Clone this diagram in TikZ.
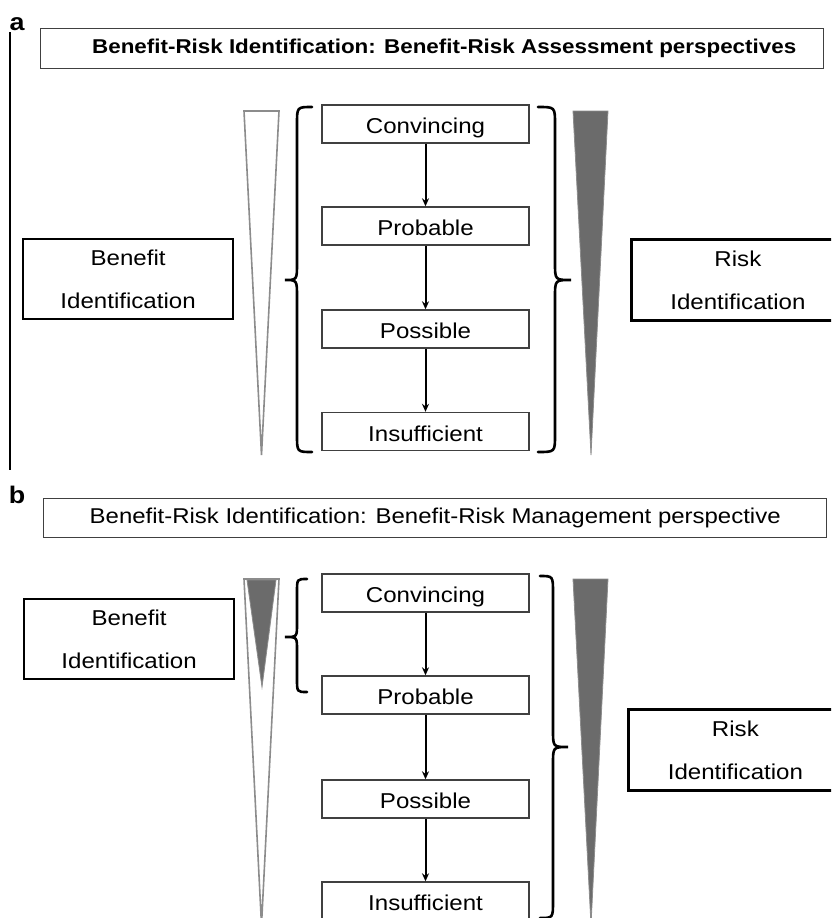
\documentclass[tikz,border=0pt]{standalone}
\usepackage{fontspec}
\setmainfont{Liberation Sans}[FakeStretch=1.12]
\usetikzlibrary{arrows.meta}
\newcommand\fsz[2]{\fontsize{#1}{#2}\selectfont}
\begin{document}
\begin{tikzpicture}[x=1pt,y=-1pt,
 titlebox/.style={draw=black!75,line width=1.4pt,minimum width=783pt,minimum height=40pt,inner sep=0pt,anchor=north west},
 sidebox/.style={draw=black,line width=2.2pt,minimum width=210pt,minimum height=80pt,inner sep=0pt,anchor=north west,align=center,font=\fsz{21.5}{43}},
 levelbox/.style={draw=black!75,line width=1.4pt,fill=white,minimum width=207pt,minimum height=38pt,inner sep=0pt,text height=19.4pt,text depth=0pt,font=\fsz{21.5}{26}},
 arr/.style={-{Stealth[length=8pt,width=7pt]},line width=2pt},
 bracel/.style={line width=2.6pt,line cap=round},
 opentri/.style={draw=black!45,line width=1.6pt,fill=white,line join=miter},
 darktri/.style={fill=black!58,draw=black!45,line width=0.8pt},
 panellabel/.style={anchor=base,font=\bfseries\fsz{24}{26},inner sep=0pt}]
\useasboundingbox (0,0) rectangle (831,918);
\clip (0,0) rectangle (831,918);

% ---------------- panel a ----------------
\node[panellabel] (la) at (17,30) {a};
\coordinate (vtop) at (10,32);
\coordinate (vbot) at (10,470);
\draw[line width=1.2pt] (vtop) -- (vbot);

\node[titlebox] (titleA) at (40,28) {\bfseries\fsz{20}{24}\hspace*{24pt}Benefit-Risk Identification: Benefit-Risk Assessment perspectives};

\draw[opentri] (244,111) -- (279,111) -- (261.5,455) -- cycle;
\draw[darktri] (573,111) -- (608,111) -- (591,455) -- cycle;

\draw[bracel] (312,107) .. controls (297,107) .. (297,124) -- (297,263) .. controls (297,280) .. (285,280)
  .. controls (297,280) .. (297,297) -- (297,435) .. controls (297,452) .. (312,452);
\draw[bracel] (538,107) .. controls (555,107) .. (555,124) -- (555,263) .. controls (555,280) .. (571,280)
  .. controls (555,280) .. (555,297) -- (555,435) .. controls (555,452) .. (538,452);

\node[levelbox] (a1) at (425.5,124) {Convincing};
\node[levelbox] (a2) at (425.5,226) {Probable};
\node[levelbox] (a3) at (425.5,329) {Possible};
\node[levelbox] (a4) at (425.5,431.5) {Insufficient};
\draw[arr] (a1) -- (a2);
\draw[arr] (a2) -- (a3);
\draw[arr] (a3) -- (a4);

\node[sidebox] (benA) at (22,238) {Benefit\\Identification};
\node[sidebox,line width=2.8pt,minimum width=213pt,minimum height=81pt] (riskA) at (630,238) {Risk\\Identification};

% ---------------- panel b ----------------
\node[panellabel] (lb) at (17,503) {b};
\node[titlebox,minimum height=39pt] (titleB) at (43,498) {\fsz{21.4}{24}Benefit-Risk Identification: Benefit-Risk Management perspective};

\draw[opentri] (244,579) -- (279,579) -- (261.5,925) -- cycle;
\draw[darktri] (247,580) -- (276,580) -- (262,687) -- cycle;
\draw[darktri] (573,579) -- (608,579) -- (591,925) -- cycle;

\draw[bracel] (307,579) .. controls (297,579) .. (297,592) -- (297,624) .. controls (297,637) .. (285,637)
  .. controls (297,637) .. (297,650) -- (297,679) .. controls (297,692) .. (307,692);
\draw[bracel] (540,576) .. controls (553,576) .. (553,593) -- (553,730) .. controls (553,747) .. (568,747)
  .. controls (553,747) .. (553,764) -- (553,901) .. controls (553,918) .. (540,918);

\node[levelbox] (b1) at (425.5,593) {Convincing};
\node[levelbox] (b2) at (425.5,695) {Probable};
\node[levelbox] (b3) at (425.5,799) {Possible};
\node[levelbox] (b4) at (425.5,901) {Insufficient};
\draw[arr] (b1) -- (b2);
\draw[arr] (b2) -- (b3);
\draw[arr] (b3) -- (b4);

\node[sidebox] (benB) at (23,598) {Benefit\\Identification};
\node[sidebox,line width=2.8pt,minimum width=214pt,minimum height=81pt] (riskB) at (627,708) {Risk\\Identification};
\end{tikzpicture}
\end{document}
